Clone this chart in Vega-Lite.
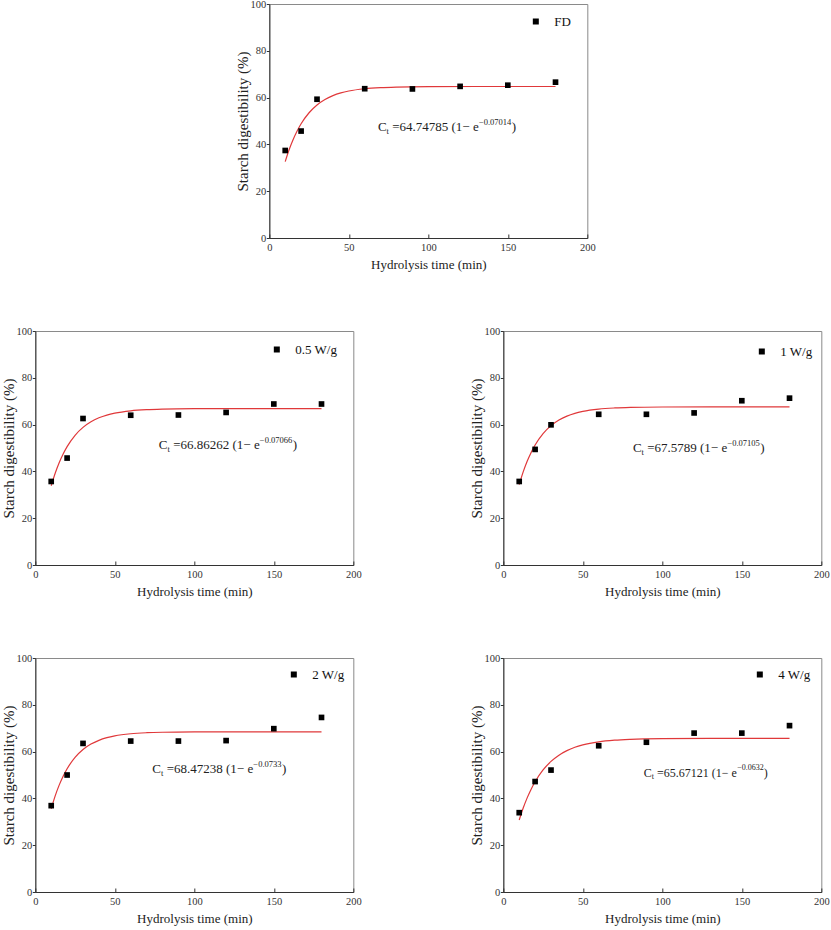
{
  "$schema": "https://vega.github.io/schema/vega-lite/v6.json",
  "description": "Starch digestibility over hydrolysis time, first-order fits for FD and four ultrasound powers.",
  "padding": {"left": 0, "top": -2, "right": 0, "bottom": 0},
  "datasets": {
    "obs": [
      {"sample": "FD", "t": 10, "c": 37.4}, {"sample": "FD", "t": 20, "c": 45.7}, {"sample": "FD", "t": 30, "c": 59.3}, {"sample": "FD", "t": 60, "c": 63.8},
      {"sample": "FD", "t": 90, "c": 63.7}, {"sample": "FD", "t": 120, "c": 64.8}, {"sample": "FD", "t": 150, "c": 65.3}, {"sample": "FD", "t": 180, "c": 66.6},
      {"sample": "0.5 W/g", "t": 10, "c": 35.7}, {"sample": "0.5 W/g", "t": 20, "c": 45.7}, {"sample": "0.5 W/g", "t": 30, "c": 62.6}, {"sample": "0.5 W/g", "t": 60, "c": 64.0},
      {"sample": "0.5 W/g", "t": 90, "c": 64.1}, {"sample": "0.5 W/g", "t": 120, "c": 65.2}, {"sample": "0.5 W/g", "t": 150, "c": 68.8}, {"sample": "0.5 W/g", "t": 180, "c": 68.8},
      {"sample": "1 W/g", "t": 10, "c": 35.7}, {"sample": "1 W/g", "t": 20, "c": 49.4}, {"sample": "1 W/g", "t": 30, "c": 59.9}, {"sample": "1 W/g", "t": 60, "c": 64.4},
      {"sample": "1 W/g", "t": 90, "c": 64.4}, {"sample": "1 W/g", "t": 120, "c": 65.0}, {"sample": "1 W/g", "t": 150, "c": 70.2}, {"sample": "1 W/g", "t": 180, "c": 71.3},
      {"sample": "2 W/g", "t": 10, "c": 36.9}, {"sample": "2 W/g", "t": 20, "c": 50.0}, {"sample": "2 W/g", "t": 30, "c": 63.5}, {"sample": "2 W/g", "t": 60, "c": 64.5},
      {"sample": "2 W/g", "t": 90, "c": 64.5}, {"sample": "2 W/g", "t": 120, "c": 64.7}, {"sample": "2 W/g", "t": 150, "c": 69.8}, {"sample": "2 W/g", "t": 180, "c": 74.6},
      {"sample": "4 W/g", "t": 10, "c": 33.9}, {"sample": "4 W/g", "t": 20, "c": 47.2}, {"sample": "4 W/g", "t": 30, "c": 52.1}, {"sample": "4 W/g", "t": 60, "c": 62.5},
      {"sample": "4 W/g", "t": 90, "c": 64.0}, {"sample": "4 W/g", "t": 120, "c": 67.9}, {"sample": "4 W/g", "t": 150, "c": 67.9}, {"sample": "4 W/g", "t": 180, "c": 71.1}
    ],
    "fit": [
      {"sample": "FD", "t": 10, "c": 32.64}, {"sample": "FD", "t": 12.5, "c": 37.81}, {"sample": "FD", "t": 15, "c": 42.14}, {"sample": "FD", "t": 17.5, "c": 45.77},
      {"sample": "FD", "t": 20, "c": 48.83}, {"sample": "FD", "t": 25, "c": 53.53}, {"sample": "FD", "t": 30, "c": 56.85}, {"sample": "FD", "t": 35, "c": 59.19},
      {"sample": "FD", "t": 40, "c": 60.83}, {"sample": "FD", "t": 45, "c": 61.99}, {"sample": "FD", "t": 50, "c": 62.81}, {"sample": "FD", "t": 60, "c": 63.78},
      {"sample": "FD", "t": 70, "c": 64.27}, {"sample": "FD", "t": 80, "c": 64.51}, {"sample": "FD", "t": 100, "c": 64.69}, {"sample": "FD", "t": 130, "c": 64.74},
      {"sample": "FD", "t": 180, "c": 64.75},
      {"sample": "0.5 W/g", "t": 10, "c": 33.88}, {"sample": "0.5 W/g", "t": 12.5, "c": 39.22}, {"sample": "0.5 W/g", "t": 15, "c": 43.69}, {"sample": "0.5 W/g", "t": 17.5, "c": 47.44},
      {"sample": "0.5 W/g", "t": 20, "c": 50.59}, {"sample": "0.5 W/g", "t": 25, "c": 55.44}, {"sample": "0.5 W/g", "t": 30, "c": 58.83}, {"sample": "0.5 W/g", "t": 35, "c": 61.22},
      {"sample": "0.5 W/g", "t": 40, "c": 62.90}, {"sample": "0.5 W/g", "t": 45, "c": 64.08}, {"sample": "0.5 W/g", "t": 50, "c": 64.91}, {"sample": "0.5 W/g", "t": 60, "c": 65.90},
      {"sample": "0.5 W/g", "t": 70, "c": 66.39}, {"sample": "0.5 W/g", "t": 80, "c": 66.63}, {"sample": "0.5 W/g", "t": 100, "c": 66.81}, {"sample": "0.5 W/g", "t": 130, "c": 66.86},
      {"sample": "0.5 W/g", "t": 180, "c": 66.86},
      {"sample": "1 W/g", "t": 10, "c": 34.37}, {"sample": "1 W/g", "t": 12.5, "c": 39.78}, {"sample": "1 W/g", "t": 15, "c": 44.30}, {"sample": "1 W/g", "t": 17.5, "c": 48.09},
      {"sample": "1 W/g", "t": 20, "c": 51.26}, {"sample": "1 W/g", "t": 25, "c": 56.14}, {"sample": "1 W/g", "t": 30, "c": 59.56}, {"sample": "1 W/g", "t": 35, "c": 61.96},
      {"sample": "1 W/g", "t": 40, "c": 63.64}, {"sample": "1 W/g", "t": 45, "c": 64.82}, {"sample": "1 W/g", "t": 50, "c": 65.64}, {"sample": "1 W/g", "t": 60, "c": 66.63},
      {"sample": "1 W/g", "t": 70, "c": 67.11}, {"sample": "1 W/g", "t": 80, "c": 67.35}, {"sample": "1 W/g", "t": 100, "c": 67.52}, {"sample": "1 W/g", "t": 130, "c": 67.57},
      {"sample": "1 W/g", "t": 180, "c": 67.58},
      {"sample": "2 W/g", "t": 10, "c": 35.57}, {"sample": "2 W/g", "t": 12.5, "c": 41.08}, {"sample": "2 W/g", "t": 15, "c": 45.67}, {"sample": "2 W/g", "t": 17.5, "c": 49.49},
      {"sample": "2 W/g", "t": 20, "c": 52.67}, {"sample": "2 W/g", "t": 25, "c": 57.52}, {"sample": "2 W/g", "t": 30, "c": 60.88}, {"sample": "2 W/g", "t": 35, "c": 63.21},
      {"sample": "2 W/g", "t": 40, "c": 64.82}, {"sample": "2 W/g", "t": 45, "c": 65.94}, {"sample": "2 W/g", "t": 50, "c": 66.72}, {"sample": "2 W/g", "t": 60, "c": 67.63},
      {"sample": "2 W/g", "t": 70, "c": 68.07}, {"sample": "2 W/g", "t": 80, "c": 68.28}, {"sample": "2 W/g", "t": 100, "c": 68.43}, {"sample": "2 W/g", "t": 130, "c": 68.47},
      {"sample": "2 W/g", "t": 180, "c": 68.47},
      {"sample": "4 W/g", "t": 10, "c": 30.76}, {"sample": "4 W/g", "t": 12.5, "c": 35.87}, {"sample": "4 W/g", "t": 15, "c": 40.22}, {"sample": "4 W/g", "t": 17.5, "c": 43.94},
      {"sample": "4 W/g", "t": 20, "c": 47.12}, {"sample": "4 W/g", "t": 25, "c": 52.14}, {"sample": "4 W/g", "t": 30, "c": 55.81}, {"sample": "4 W/g", "t": 35, "c": 58.48},
      {"sample": "4 W/g", "t": 40, "c": 60.43}, {"sample": "4 W/g", "t": 45, "c": 61.85}, {"sample": "4 W/g", "t": 50, "c": 62.88}, {"sample": "4 W/g", "t": 60, "c": 64.19},
      {"sample": "4 W/g", "t": 70, "c": 64.88}, {"sample": "4 W/g", "t": 80, "c": 65.25}, {"sample": "4 W/g", "t": 100, "c": 65.55}, {"sample": "4 W/g", "t": 130, "c": 65.65},
      {"sample": "4 W/g", "t": 180, "c": 65.67}
    ],
    "notes": [
      {"sample": "FD", "t": 68.3, "c": 47.4, "rhs": "=64.74785 (1− e", "power": "−0.07014"},
      {"sample": "0.5 W/g", "t": 77.7, "c": 51.4, "rhs": "=66.86262 (1− e", "power": "−0.07066"},
      {"sample": "1 W/g", "t": 81.5, "c": 50.0, "rhs": "=67.5789 (1− e", "power": "−0.07105"},
      {"sample": "2 W/g", "t": 73.6, "c": 52.7, "rhs": "=68.47238 (1− e", "power": "−0.0733"},
      {"sample": "4 W/g", "t": 88.4, "c": 50.9, "rhs": "=65.67121 (1− e", "power": "−0.0632"}
    ]
  },
  "vconcat": [
    {
      "width": 318, "height": 234,
      "layer": [
        {"data": {"name": "fit"}, "transform": [{"filter": "datum.sample === 'FD'"}],
         "mark": {"type": "line", "color": "#e0383a", "strokeWidth": 1.2, "interpolate": "monotone"},
         "encoding": {
           "x": {"field": "t", "type": "quantitative", "scale": {"domain": [0, 200], "nice": false},
                 "axis": {"title": "Hydrolysis time (min)", "values": [0, 25, 50, 75, 100, 125, 150, 175, 200], "labelExpr": "datum.value % 50 === 0 ? datum.label : ''", "tickSize": -4, "labelPadding": 8, "titleFontSize": 13, "titlePadding": 6}},
           "y": {"field": "c", "type": "quantitative", "scale": {"domain": [0, 100], "nice": false},
                 "axis": {"title": "Starch digestibility (%)", "values": [0, 20, 40, 60, 80, 100], "tickSize": 3, "labelPadding": 0.5, "titleFontSize": 15, "titlePadding": 0}}
         }},
        {"data": {"name": "obs"}, "transform": [{"filter": "datum.sample === 'FD'"}],
         "mark": {"type": "point", "shape": "square", "filled": true, "size": 32, "opacity": 1},
         "encoding": {
           "x": {"field": "t", "type": "quantitative"},
           "y": {"field": "c", "type": "quantitative"},
           "color": {"field": "sample", "type": "nominal", "scale": {"range": ["#000000"]}, "legend": {"title": null, "orient": "none", "legendX": 260, "legendY": 11}}
         }},
        {"data": {"name": "notes"}, "transform": [{"filter": "datum.sample === 'FD'"}],
         "mark": {"type": "text", "text": "C", "align": "left", "baseline": "middle", "fontSize": 13},
         "encoding": {"x": {"field": "t", "type": "quantitative"}, "y": {"field": "c", "type": "quantitative"}}},
        {"data": {"name": "notes"}, "transform": [{"filter": "datum.sample === 'FD'"}],
         "mark": {"type": "text", "text": "t", "align": "left", "baseline": "middle", "fontSize": 8.5, "dx": 8.7, "dy": 4},
         "encoding": {"x": {"field": "t", "type": "quantitative"}, "y": {"field": "c", "type": "quantitative"}}},
        {"data": {"name": "notes"}, "transform": [{"filter": "datum.sample === 'FD'"}],
         "mark": {"type": "text", "align": "left", "baseline": "middle", "fontSize": 13, "dx": 14.3},
         "encoding": {"x": {"field": "t", "type": "quantitative"}, "y": {"field": "c", "type": "quantitative"}, "text": {"field": "rhs"}}},
        {"data": {"name": "notes"}, "transform": [{"filter": "datum.sample === 'FD'"}],
         "mark": {"type": "text", "align": "left", "baseline": "middle", "fontSize": 8.5, "dx": 101, "dy": -5},
         "encoding": {"x": {"field": "t", "type": "quantitative"}, "y": {"field": "c", "type": "quantitative"}, "text": {"field": "power"}}},
        {"data": {"name": "notes"}, "transform": [{"filter": "datum.sample === 'FD'"}],
         "mark": {"type": "text", "text": ")", "align": "left", "baseline": "middle", "fontSize": 13, "dx": 133.8},
         "encoding": {"x": {"field": "t", "type": "quantitative"}, "y": {"field": "c", "type": "quantitative"}}}
      ]
    },
    {
      "hconcat": [
        {
          "width": 318, "height": 234,
          "layer": [
            {"data": {"name": "fit"}, "transform": [{"filter": "datum.sample === '0.5 W/g'"}],
             "mark": {"type": "line", "color": "#e0383a", "strokeWidth": 1.2, "interpolate": "monotone"},
             "encoding": {
               "x": {"field": "t", "type": "quantitative", "scale": {"domain": [0, 200], "nice": false},
                     "axis": {"title": "Hydrolysis time (min)", "values": [0, 25, 50, 75, 100, 125, 150, 175, 200], "labelExpr": "datum.value % 50 === 0 ? datum.label : ''", "tickSize": -4, "labelPadding": 8, "titleFontSize": 13, "titlePadding": 6}},
               "y": {"field": "c", "type": "quantitative", "scale": {"domain": [0, 100], "nice": false},
                     "axis": {"title": "Starch digestibility (%)", "values": [0, 20, 40, 60, 80, 100], "tickSize": 3, "labelPadding": 0.5, "titleFontSize": 15, "titlePadding": 0}}
             }},
            {"data": {"name": "obs"}, "transform": [{"filter": "datum.sample === '0.5 W/g'"}],
             "mark": {"type": "point", "shape": "square", "filled": true, "size": 32, "opacity": 1},
             "encoding": {
               "x": {"field": "t", "type": "quantitative"},
               "y": {"field": "c", "type": "quantitative"},
               "color": {"field": "sample", "type": "nominal", "scale": {"range": ["#000000"]}, "legend": {"title": null, "orient": "none", "legendX": 235, "legendY": 12}}
             }},
            {"data": {"name": "notes"}, "transform": [{"filter": "datum.sample === '0.5 W/g'"}],
             "mark": {"type": "text", "text": "C", "align": "left", "baseline": "middle", "fontSize": 13},
             "encoding": {"x": {"field": "t", "type": "quantitative"}, "y": {"field": "c", "type": "quantitative"}}},
            {"data": {"name": "notes"}, "transform": [{"filter": "datum.sample === '0.5 W/g'"}],
             "mark": {"type": "text", "text": "t", "align": "left", "baseline": "middle", "fontSize": 8.5, "dx": 8.7, "dy": 4},
             "encoding": {"x": {"field": "t", "type": "quantitative"}, "y": {"field": "c", "type": "quantitative"}}},
            {"data": {"name": "notes"}, "transform": [{"filter": "datum.sample === '0.5 W/g'"}],
             "mark": {"type": "text", "align": "left", "baseline": "middle", "fontSize": 13, "dx": 14.3},
             "encoding": {"x": {"field": "t", "type": "quantitative"}, "y": {"field": "c", "type": "quantitative"}, "text": {"field": "rhs"}}},
            {"data": {"name": "notes"}, "transform": [{"filter": "datum.sample === '0.5 W/g'"}],
             "mark": {"type": "text", "align": "left", "baseline": "middle", "fontSize": 8.5, "dx": 101, "dy": -5},
             "encoding": {"x": {"field": "t", "type": "quantitative"}, "y": {"field": "c", "type": "quantitative"}, "text": {"field": "power"}}},
            {"data": {"name": "notes"}, "transform": [{"filter": "datum.sample === '0.5 W/g'"}],
             "mark": {"type": "text", "text": ")", "align": "left", "baseline": "middle", "fontSize": 13, "dx": 133.8},
             "encoding": {"x": {"field": "t", "type": "quantitative"}, "y": {"field": "c", "type": "quantitative"}}}
          ]
        },
        {
          "width": 318, "height": 234,
          "layer": [
            {"data": {"name": "fit"}, "transform": [{"filter": "datum.sample === '1 W/g'"}],
             "mark": {"type": "line", "color": "#e0383a", "strokeWidth": 1.2, "interpolate": "monotone"},
             "encoding": {
               "x": {"field": "t", "type": "quantitative", "scale": {"domain": [0, 200], "nice": false},
                     "axis": {"title": "Hydrolysis time (min)", "values": [0, 25, 50, 75, 100, 125, 150, 175, 200], "labelExpr": "datum.value % 50 === 0 ? datum.label : ''", "tickSize": -4, "labelPadding": 8, "titleFontSize": 13, "titlePadding": 6}},
               "y": {"field": "c", "type": "quantitative", "scale": {"domain": [0, 100], "nice": false},
                     "axis": {"title": "Starch digestibility (%)", "values": [0, 20, 40, 60, 80, 100], "tickSize": 3, "labelPadding": 0.5, "titleFontSize": 15, "titlePadding": 0}}
             }},
            {"data": {"name": "obs"}, "transform": [{"filter": "datum.sample === '1 W/g'"}],
             "mark": {"type": "point", "shape": "square", "filled": true, "size": 32, "opacity": 1},
             "encoding": {
               "x": {"field": "t", "type": "quantitative"},
               "y": {"field": "c", "type": "quantitative"},
               "color": {"field": "sample", "type": "nominal", "scale": {"range": ["#000000"]}, "legend": {"title": null, "orient": "none", "legendX": 252, "legendY": 14}}
             }},
            {"data": {"name": "notes"}, "transform": [{"filter": "datum.sample === '1 W/g'"}],
             "mark": {"type": "text", "text": "C", "align": "left", "baseline": "middle", "fontSize": 13},
             "encoding": {"x": {"field": "t", "type": "quantitative"}, "y": {"field": "c", "type": "quantitative"}}},
            {"data": {"name": "notes"}, "transform": [{"filter": "datum.sample === '1 W/g'"}],
             "mark": {"type": "text", "text": "t", "align": "left", "baseline": "middle", "fontSize": 8.5, "dx": 8.7, "dy": 4},
             "encoding": {"x": {"field": "t", "type": "quantitative"}, "y": {"field": "c", "type": "quantitative"}}},
            {"data": {"name": "notes"}, "transform": [{"filter": "datum.sample === '1 W/g'"}],
             "mark": {"type": "text", "align": "left", "baseline": "middle", "fontSize": 13, "dx": 14.3},
             "encoding": {"x": {"field": "t", "type": "quantitative"}, "y": {"field": "c", "type": "quantitative"}, "text": {"field": "rhs"}}},
            {"data": {"name": "notes"}, "transform": [{"filter": "datum.sample === '1 W/g'"}],
             "mark": {"type": "text", "align": "left", "baseline": "middle", "fontSize": 8.5, "dx": 94.5, "dy": -5},
             "encoding": {"x": {"field": "t", "type": "quantitative"}, "y": {"field": "c", "type": "quantitative"}, "text": {"field": "power"}}},
            {"data": {"name": "notes"}, "transform": [{"filter": "datum.sample === '1 W/g'"}],
             "mark": {"type": "text", "text": ")", "align": "left", "baseline": "middle", "fontSize": 13, "dx": 127.3},
             "encoding": {"x": {"field": "t", "type": "quantitative"}, "y": {"field": "c", "type": "quantitative"}}}
          ]
        }
      ],
      "spacing": 150, "bounds": "flush",
      "resolve": {"scale": {"color": "independent"}, "legend": {"color": "independent"}}
    },
    {
      "hconcat": [
        {
          "width": 318, "height": 234,
          "layer": [
            {"data": {"name": "fit"}, "transform": [{"filter": "datum.sample === '2 W/g'"}],
             "mark": {"type": "line", "color": "#e0383a", "strokeWidth": 1.2, "interpolate": "monotone"},
             "encoding": {
               "x": {"field": "t", "type": "quantitative", "scale": {"domain": [0, 200], "nice": false},
                     "axis": {"title": "Hydrolysis time (min)", "values": [0, 25, 50, 75, 100, 125, 150, 175, 200], "labelExpr": "datum.value % 50 === 0 ? datum.label : ''", "tickSize": -4, "labelPadding": 8, "titleFontSize": 13, "titlePadding": 6}},
               "y": {"field": "c", "type": "quantitative", "scale": {"domain": [0, 100], "nice": false},
                     "axis": {"title": "Starch digestibility (%)", "values": [0, 20, 40, 60, 80, 100], "tickSize": 3, "labelPadding": 0.5, "titleFontSize": 15, "titlePadding": 0}}
             }},
            {"data": {"name": "obs"}, "transform": [{"filter": "datum.sample === '2 W/g'"}],
             "mark": {"type": "point", "shape": "square", "filled": true, "size": 32, "opacity": 1},
             "encoding": {
               "x": {"field": "t", "type": "quantitative"},
               "y": {"field": "c", "type": "quantitative"},
               "color": {"field": "sample", "type": "nominal", "scale": {"range": ["#000000"]}, "legend": {"title": null, "orient": "none", "legendX": 252, "legendY": 10}}
             }},
            {"data": {"name": "notes"}, "transform": [{"filter": "datum.sample === '2 W/g'"}],
             "mark": {"type": "text", "text": "C", "align": "left", "baseline": "middle", "fontSize": 13},
             "encoding": {"x": {"field": "t", "type": "quantitative"}, "y": {"field": "c", "type": "quantitative"}}},
            {"data": {"name": "notes"}, "transform": [{"filter": "datum.sample === '2 W/g'"}],
             "mark": {"type": "text", "text": "t", "align": "left", "baseline": "middle", "fontSize": 8.5, "dx": 8.7, "dy": 4},
             "encoding": {"x": {"field": "t", "type": "quantitative"}, "y": {"field": "c", "type": "quantitative"}}},
            {"data": {"name": "notes"}, "transform": [{"filter": "datum.sample === '2 W/g'"}],
             "mark": {"type": "text", "align": "left", "baseline": "middle", "fontSize": 13, "dx": 14.3},
             "encoding": {"x": {"field": "t", "type": "quantitative"}, "y": {"field": "c", "type": "quantitative"}, "text": {"field": "rhs"}}},
            {"data": {"name": "notes"}, "transform": [{"filter": "datum.sample === '2 W/g'"}],
             "mark": {"type": "text", "align": "left", "baseline": "middle", "fontSize": 8.5, "dx": 101, "dy": -5},
             "encoding": {"x": {"field": "t", "type": "quantitative"}, "y": {"field": "c", "type": "quantitative"}, "text": {"field": "power"}}},
            {"data": {"name": "notes"}, "transform": [{"filter": "datum.sample === '2 W/g'"}],
             "mark": {"type": "text", "text": ")", "align": "left", "baseline": "middle", "fontSize": 13, "dx": 129.6},
             "encoding": {"x": {"field": "t", "type": "quantitative"}, "y": {"field": "c", "type": "quantitative"}}}
          ]
        },
        {
          "width": 318, "height": 234,
          "layer": [
            {"data": {"name": "fit"}, "transform": [{"filter": "datum.sample === '4 W/g'"}],
             "mark": {"type": "line", "color": "#e0383a", "strokeWidth": 1.2, "interpolate": "monotone"},
             "encoding": {
               "x": {"field": "t", "type": "quantitative", "scale": {"domain": [0, 200], "nice": false},
                     "axis": {"title": "Hydrolysis time (min)", "values": [0, 25, 50, 75, 100, 125, 150, 175, 200], "labelExpr": "datum.value % 50 === 0 ? datum.label : ''", "tickSize": -4, "labelPadding": 8, "titleFontSize": 13, "titlePadding": 6}},
               "y": {"field": "c", "type": "quantitative", "scale": {"domain": [0, 100], "nice": false},
                     "axis": {"title": "Starch digestibility (%)", "values": [0, 20, 40, 60, 80, 100], "tickSize": 3, "labelPadding": 0.5, "titleFontSize": 15, "titlePadding": 0}}
             }},
            {"data": {"name": "obs"}, "transform": [{"filter": "datum.sample === '4 W/g'"}],
             "mark": {"type": "point", "shape": "square", "filled": true, "size": 32, "opacity": 1},
             "encoding": {
               "x": {"field": "t", "type": "quantitative"},
               "y": {"field": "c", "type": "quantitative"},
               "color": {"field": "sample", "type": "nominal", "scale": {"range": ["#000000"]}, "legend": {"title": null, "orient": "none", "legendX": 250, "legendY": 10}}
             }},
            {"data": {"name": "notes"}, "transform": [{"filter": "datum.sample === '4 W/g'"}],
             "mark": {"type": "text", "text": "C", "align": "left", "baseline": "middle", "fontSize": 12},
             "encoding": {"x": {"field": "t", "type": "quantitative"}, "y": {"field": "c", "type": "quantitative"}}},
            {"data": {"name": "notes"}, "transform": [{"filter": "datum.sample === '4 W/g'"}],
             "mark": {"type": "text", "text": "t", "align": "left", "baseline": "middle", "fontSize": 8, "dx": 8, "dy": 4},
             "encoding": {"x": {"field": "t", "type": "quantitative"}, "y": {"field": "c", "type": "quantitative"}}},
            {"data": {"name": "notes"}, "transform": [{"filter": "datum.sample === '4 W/g'"}],
             "mark": {"type": "text", "align": "left", "baseline": "middle", "fontSize": 12, "dx": 13.2},
             "encoding": {"x": {"field": "t", "type": "quantitative"}, "y": {"field": "c", "type": "quantitative"}, "text": {"field": "rhs"}}},
            {"data": {"name": "notes"}, "transform": [{"filter": "datum.sample === '4 W/g'"}],
             "mark": {"type": "text", "align": "left", "baseline": "middle", "fontSize": 8, "dx": 93.3, "dy": -5},
             "encoding": {"x": {"field": "t", "type": "quantitative"}, "y": {"field": "c", "type": "quantitative"}, "text": {"field": "power"}}},
            {"data": {"name": "notes"}, "transform": [{"filter": "datum.sample === '4 W/g'"}],
             "mark": {"type": "text", "text": ")", "align": "left", "baseline": "middle", "fontSize": 12, "dx": 120},
             "encoding": {"x": {"field": "t", "type": "quantitative"}, "y": {"field": "c", "type": "quantitative"}}}
          ]
        }
      ],
      "spacing": 150, "bounds": "flush",
      "resolve": {"scale": {"color": "independent"}, "legend": {"color": "independent"}}
    }
  ],
  "spacing": 53,
  "center": true,
  "resolve": {"scale": {"color": "independent"}, "legend": {"color": "independent"}},
  "config": {
    "view": {"stroke": "#8a8a8a", "strokeWidth": 1},
    "axis": {"grid": false, "labelFont": "Liberation Serif", "labelFontSize": 10.5, "labelColor": "#333333", "titleFont": "Liberation Serif", "titleFontWeight": "normal", "titleColor": "#222222", "domainColor": "#333333", "tickColor": "#333333", "labelFlush": false, "labelOverlap": false},
    "legend": {"labelFont": "Liberation Serif", "labelFontSize": 13, "labelColor": "#111111", "symbolType": "square", "symbolSize": 36, "symbolFillColor": "#000000", "symbolStrokeWidth": 0, "labelOffset": 12, "padding": 0},
    "text": {"font": "Liberation Serif", "color": "#222222"}
  }
}
